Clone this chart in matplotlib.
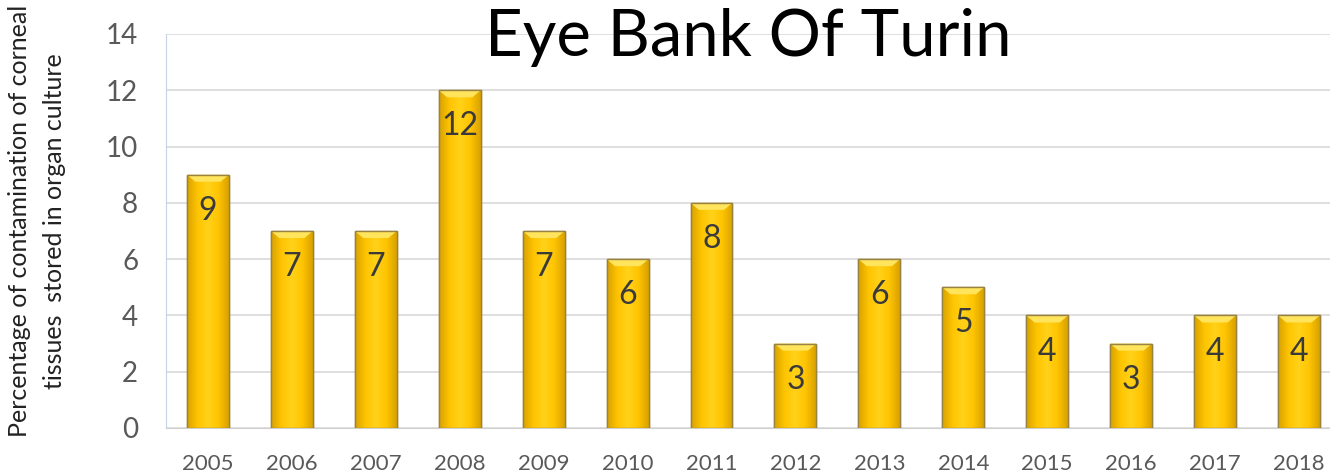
import numpy as np
import matplotlib
matplotlib.use('Agg')
import matplotlib.pyplot as plt
from matplotlib.colors import LinearSegmentedColormap

# ── Data ──────────────────────────────────────────────────────────────────────
years = ['2005', '2006', '2007', '2008', '2009', '2010', '2011',
         '2012', '2013', '2014', '2015', '2016', '2017', '2018']
contamination = [9, 7, 7, 12, 7, 6, 8, 3, 6, 5, 4, 3, 4, 4]

plt.rcParams['font.family'] = ['Lato', 'DejaVu Sans']

fig = plt.figure(figsize=(13.3, 4.75), dpi=100)
ax = fig.add_axes([166 / 1330, 47 / 475, 1164 / 1330, 394 / 475])

x = np.arange(len(years))
bars = ax.bar(x, contamination, width=0.5, color='#FFC000',
              edgecolor='#9a8340', linewidth=1.0, zorder=3)

# bevelled gold look: horizontal gradient clipped to each bar
gold = LinearSegmentedColormap.from_list(
    'gold', ['#D9A200', '#FFC400', '#FFD21A', '#FFC400', '#D9A200'])
grad = np.linspace(0, 1, 64).reshape(1, -1)
for b in bars:
    x0, w, h = b.get_x(), b.get_width(), b.get_height()
    im = ax.imshow(grad, cmap=gold, aspect='auto', zorder=3.5,
                   extent=[x0, x0 + w, 0, h], interpolation='bicubic')
    im.set_clip_path(b)
    # lighter top bevel
    ax.fill([x0, x0 + w, x0 + w * 0.8, x0 + w * 0.2],
            [h, h, h - 0.25, h - 0.25], color='#FFE45C', zorder=3.6, lw=0)
    ax.bar(x0 + w / 2, h, width=w, fill=False, edgecolor='#9a8340',
           linewidth=1.0, zorder=3.8)

for xi, v in zip(x, contamination):
    ax.annotate(str(v), (xi, v), xytext=(0, -26), textcoords='offset points',
                ha='center', va='center', fontsize=23, color='#3a3a3a', zorder=5)

ax.set_xlim(-0.5, 13.37)
ax.set_ylim(0, 14)
ax.set_yticks(range(0, 15, 2))
ax.set_xticks(x)
ax.set_xticklabels(years)
ax.tick_params(axis='y', length=0, labelsize=20, colors='#595959', pad=20)
ax.tick_params(axis='x', length=0, labelsize=16, colors='#595959', pad=19)
ax.grid(axis='y', color='#d9d9d9', linewidth=1.2, zorder=0)
ax.set_axisbelow(True)

for side in ['top', 'right']:
    ax.spines[side].set_visible(False)
ax.spines['left'].set_color('#c5d3e6')
ax.spines['bottom'].set_color('#d0d0d0')

ax.set_ylabel('Percentage of contamination of corneal\ntissues  stored in organ culture',
              fontsize=18, color='#222222', linespacing=1.65)
ax.yaxis.set_label_coords(-0.086, 0.525)

ax.text(0.5, 0.99, 'Eye Bank Of Turin', transform=ax.transAxes,
        ha='center', va='center', fontsize=47, color='black', zorder=6)

fig.savefig('out.png', dpi=100)
